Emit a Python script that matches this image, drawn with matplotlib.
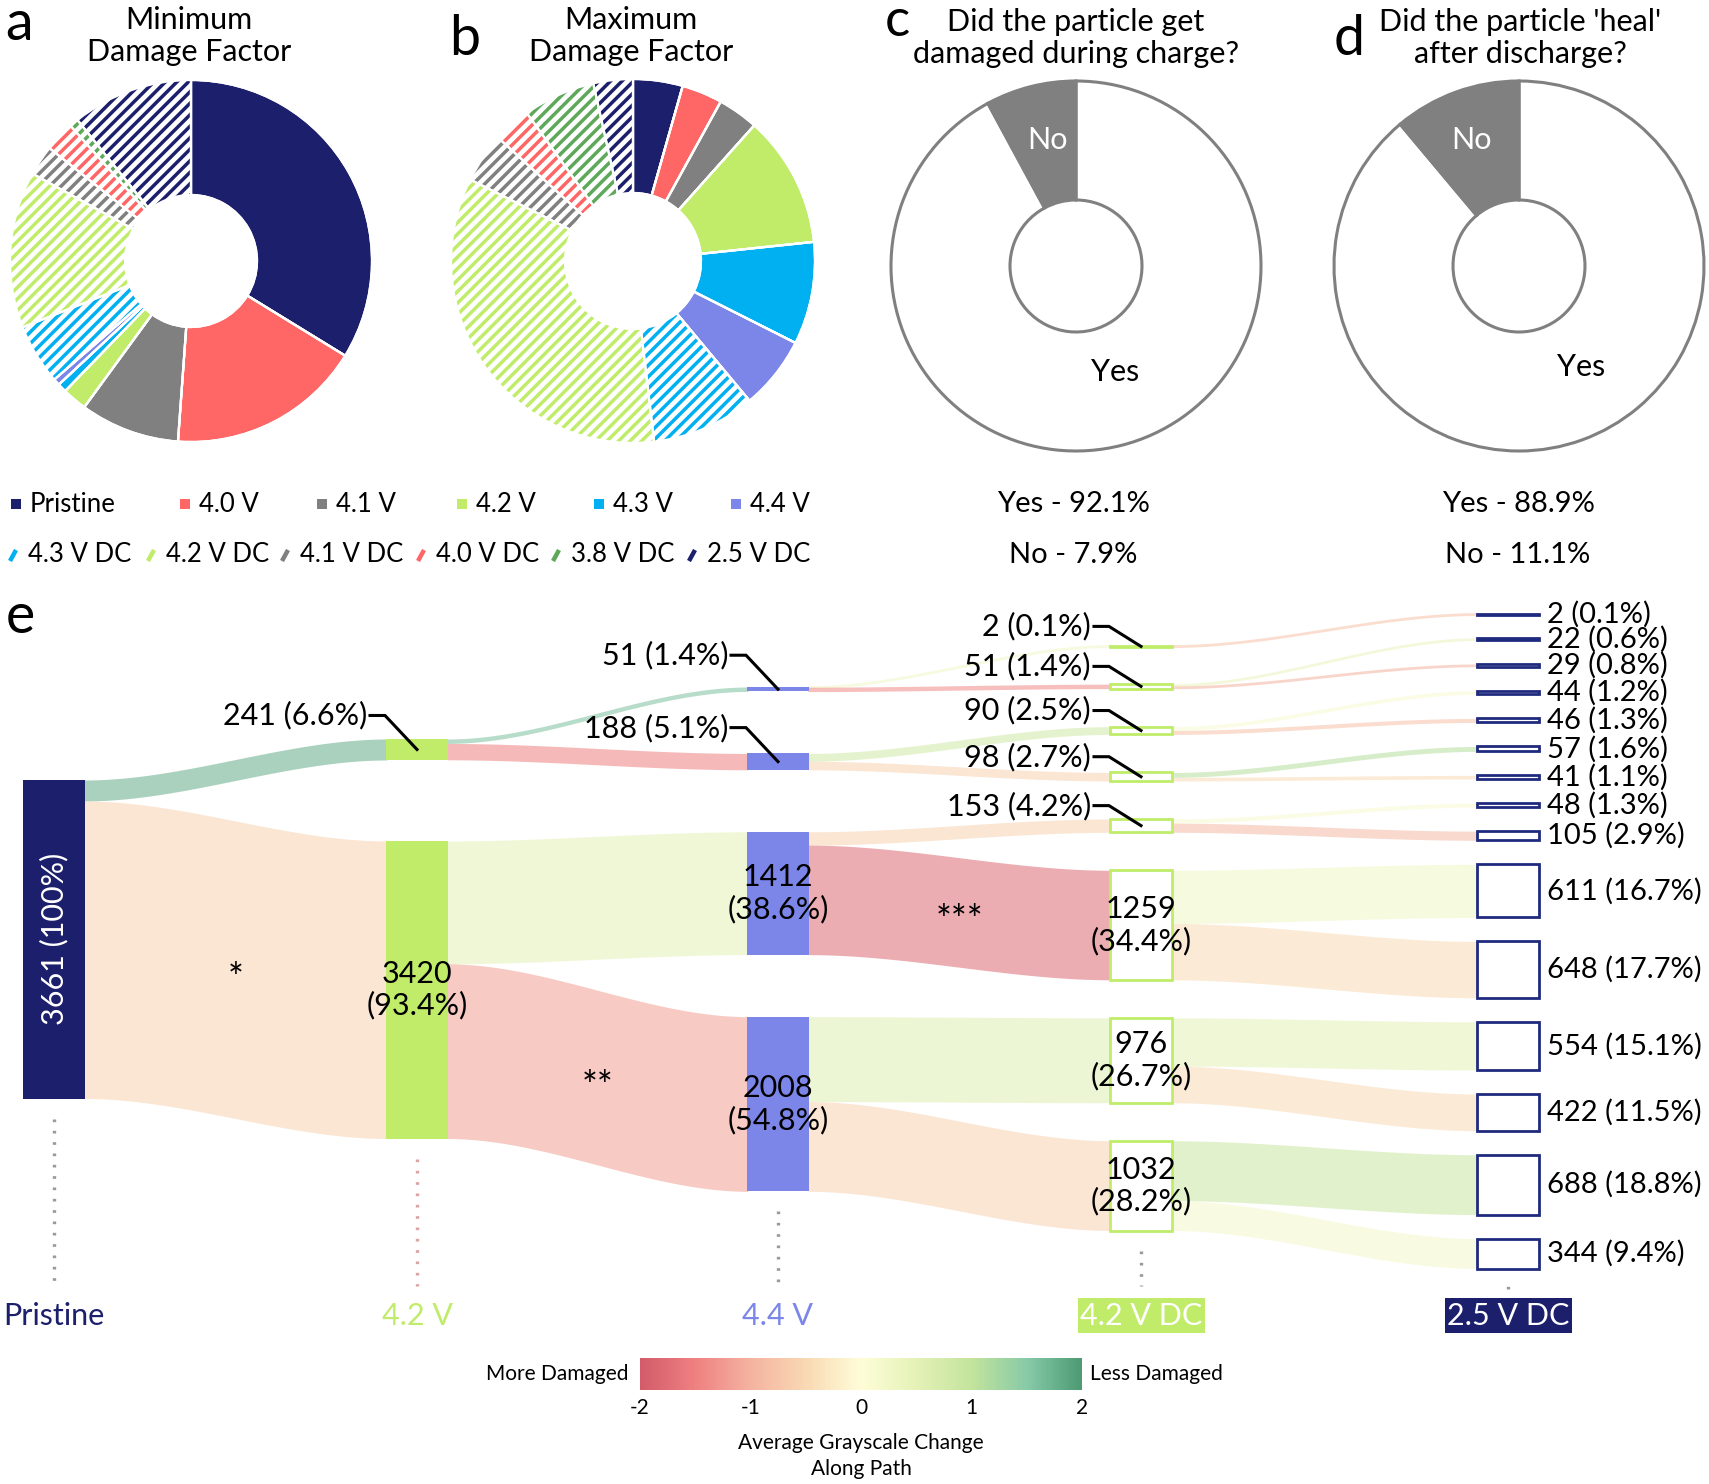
import numpy as np
import matplotlib
matplotlib.use('Agg')
import matplotlib.pyplot as plt
from matplotlib.patches import Rectangle, Wedge
from matplotlib.colors import LinearSegmentedColormap, Normalize
from matplotlib.cm import ScalarMappable

plt.rcParams['font.family'] = ['Lato', 'DejaVu Sans']
plt.rcParams['axes.unicode_minus'] = False

# ---------------- data ----------------
categories = ['Pristine', '4.0 V', '4.1 V', '4.2 V', '4.3 V', '4.4 V',
              '4.3 V DC', '4.2 V DC', '4.1 V DC', '4.0 V DC', '3.8 V DC', '2.5 V DC']
min_damage_pct = [33.8, 17.4, 8.9, 2.2, 0.8, 0.6, 5.4, 14.0, 2.7, 2.7, 0.8, 10.8]
max_damage_pct = [4.4, 3.6, 3.6, 11.7, 9.1, 6.5, 9.2, 34.2, 4.4, 3.3, 6.4, 3.5]

answer_labels = ['Yes', 'No']
damaged_during_charge_pct = [92.1, 7.9]
healed_after_discharge_pct = [88.9, 11.1]

stage_labels = ['Pristine', '4.2 V', '4.4 V', '4.2 V DC', '2.5 V DC']
stage_counts = [
    [3661],
    [241, 3420],
    [51, 188, 1412, 2008],
    [2, 51, 90, 98, 153, 1259, 976, 1032],
    [2, 22, 29, 44, 46, 57, 41, 48, 105, 611, 648, 554, 422, 688, 344],
]
link_stage = [0, 0, 1, 1, 1, 1, 2, 2, 2, 2, 2, 2, 2, 2,
              3, 3, 3, 3, 3, 3, 3, 3, 3, 3, 3, 3, 3, 3, 3]
link_src = [0, 0, 0, 0, 1, 1, 0, 0, 1, 1, 2, 2, 3, 3,
            0, 1, 1, 2, 2, 3, 3, 4, 4, 5, 5, 6, 6, 7, 7]
link_tgt = [0, 1, 0, 1, 2, 3, 0, 1, 2, 3, 4, 5, 6, 7,
            0, 1, 2, 3, 4, 5, 6, 7, 8, 9, 10, 11, 12, 13, 14]
link_count = [241, 3420, 51, 188, 1412, 2008, 2, 51, 90, 98, 153, 1259, 976, 1032,
              2, 22, 29, 44, 46, 57, 41, 48, 105, 611, 648, 554, 422, 688, 344]
link_change = [1.8, -0.6, 1.6, -1.5, 0.5, -1.2, 0.3, -1.4, 0.8, -0.6, -0.6, -1.8, 0.6, -0.6,
               -0.8, 0.4, -1.0, 0.1, -0.8, 1.1, -0.5, 0.1, -0.9, 0.3, -0.5, 0.5, -0.5, 0.9, 0.2]
link_marks = {1: '*', 5: '**', 11: '***'}

cbar_ticks = [-2, -1, 0, 1, 2]

# ---------------- styles ----------------
NAVY = '#1c1f6b'
RED = '#ff6666'
GRAY = '#808080'
GREEN = '#c0ec6a'
CYAN = '#00b0f0'
PERI = '#7b86e8'
DKGREEN = '#5ea85a'
cat_colors = [NAVY, RED, GRAY, GREEN, CYAN, PERI, CYAN, GREEN, GRAY, RED, DKGREEN, NAVY]
cat_hatched = [False] * 6 + [True] * 6

cmap = LinearSegmentedColormap.from_list('dmg', [
    (0.0, '#d25c6a'), (0.12, '#ee7f80'), (0.25, '#f4b3a0'), (0.38, '#f9dab4'),
    (0.5, '#fefdd8'), (0.62, '#e6f2b8'), (0.75, '#c3e49c'), (0.88, '#86c9a8'),
    (1.0, '#4d9a74')])
norm = Normalize(-2, 2)

W, H = 1709, 1484
fig = plt.figure(figsize=(W / 100, H / 100), dpi=100)
base = fig.add_axes([0, 0, 1, 1])
base.set_xlim(0, W)
base.set_ylim(H, 0)
base.axis('off')
base.set_zorder(5)


def px_axes(x, y, w, h):
    return fig.add_axes([x / W, 1 - (y + h) / H, w / W, h / H])


def donut(cx, cy, R, r, vals, colors, hatched, edge, lw):
    pad = 6
    ax = px_axes(cx - R - pad, cy - R - pad, 2 * (R + pad), 2 * (R + pad))
    wedges, _ = ax.pie(vals, colors=colors, startangle=90, counterclock=False, radius=1,
                       wedgeprops=dict(width=1 - r / R, edgecolor=edge, linewidth=lw))
    lim = (R + pad) / R
    ax.set_xlim(-lim, lim)
    ax.set_ylim(-lim, lim)
    ax.set_aspect('equal')
    ax.axis('off')
    if hatched is not None:
        step = 11.5 / R
        for w, col, h in zip(wedges, colors, hatched):
            if h:
                w.set_facecolor('white')
                for c in np.arange(-2.3, 2.3, step):
                    ln, = ax.plot([-1.2, 1.2], [-1.2 + c, 1.2 + c], color=col, lw=2.5,
                                  solid_capstyle='butt', zorder=3)
                    ln.set_clip_path(w)
        for w in wedges:
            ax.add_patch(Wedge(w.center, w.r, w.theta1, w.theta2, width=w.width,
                               fc='none', ec='white', lw=lw, zorder=5))
    return ax


# ---------------- panels a, b ----------------
donut(191, 261, 181, 66, min_damage_pct, cat_colors, cat_hatched, 'white', 1.6)
donut(633, 261, 182, 68, max_damage_pct, cat_colors, cat_hatched, 'white', 1.6)

base.text(19, 40, 'a', fontsize=40, ha='center', va='baseline')
base.text(465, 55, 'b', fontsize=40, ha='center', va='baseline')
base.text(189, 36, 'Minimum\nDamage Factor', fontsize=22, ha='center', va='center', linespacing=1.2)
base.text(631, 36, 'Maximum\nDamage Factor', fontsize=22, ha='center', va='center', linespacing=1.2)

# legend
row1_x = [16, 185, 322, 462, 599, 736]
row2_x = [13, 151, 285, 421, 556, 692]
for i in range(6):
    mx = row1_x[i]
    base.add_patch(Rectangle((mx - 5, 499), 10, 10, fc=cat_colors[i], ec='none'))
    base.text(mx + 14, 504, categories[i], fontsize=18.5, ha='left', va='center')
for i in range(6):
    mx = row2_x[i]
    base.plot([mx - 3, mx + 3], [561, 550], color=cat_colors[6 + i], lw=3.2, solid_capstyle='butt')
    base.text(mx + 15, 555, categories[6 + i], fontsize=18.5, ha='left', va='center')

# ---------------- panels c, d ----------------
donut(1076, 266, 185, 66, damaged_during_charge_pct, ['white', GRAY], None, GRAY, 2.2)
donut(1519, 266, 185, 66, healed_after_discharge_pct, ['white', GRAY], None, GRAY, 2.2)
base.text(897, 36, 'c', fontsize=38, ha='center', va='baseline')
base.text(1349, 55, 'd', fontsize=40, ha='center', va='baseline')
base.text(1076, 38, 'Did the particle get\ndamaged during charge?', fontsize=22,
          ha='center', va='center', linespacing=1.2)
base.text(1520, 38, "Did the particle 'heal'\nafter discharge?", fontsize=22,
          ha='center', va='center', linespacing=1.2)
base.text(1047, 140, answer_labels[1], fontsize=22, color='white', ha='center', va='center')
base.text(1115, 372, answer_labels[0], fontsize=22, ha='center', va='center')
base.text(1472, 140, answer_labels[1], fontsize=22, color='white', ha='center', va='center')
base.text(1581, 367, answer_labels[0], fontsize=22, ha='center', va='center')
for cx, vals in [(1073, damaged_during_charge_pct), (1518, healed_after_discharge_pct)]:
    for j, (lab, v) in enumerate(zip(answer_labels, vals)):
        base.text(cx, 504 + 51 * j, f'{lab} - {v}%', fontsize=21, ha='center', va='center')

# ---------------- panel e : sankey ----------------
base.text(20, 633, 'e', fontsize=40, ha='center', va='baseline')

col_cx = [54, 417, 778, 1141, 1508]
col_top = [780, 739, 687, 646, 614]
col_gap = [0, 81, 62, 38, 24]
node_w = 62
k = 0.087  # pixels per particle
total = stage_counts[0][0]

node_top = []
for s, counts in enumerate(stage_counts):
    y = col_top[s]
    tops = []
    for v in counts:
        tops.append(y)
        y += v * k + col_gap[s]
    node_top.append(tops)

out_off = [[0.0] * len(c) for c in stage_counts]
in_off = [[0.0] * len(c) for c in stage_counts]
t = np.linspace(0, 1, 100)
sm = t * t * (3 - 2 * t)
for i in range(len(link_count)):
    s, a, b, v = link_stage[i], link_src[i], link_tgt[i], link_count[i]
    th = v * k
    y0 = node_top[s][a] + out_off[s][a]
    y1 = node_top[s + 1][b] + in_off[s + 1][b]
    out_off[s][a] += th
    in_off[s + 1][b] += th
    wd = max(th, 2.8)
    c0, c1 = y0 + th / 2, y1 + th / 2
    x0 = col_cx[s] + node_w / 2 - 1
    x1 = col_cx[s + 1] - node_w / 2 + 1
    xs = x0 + (x1 - x0) * t
    yc = c0 + (c1 - c0) * sm
    base.fill_between(xs, yc - wd / 2, yc + wd / 2, color=cmap(norm(link_change[i])),
                      alpha=0.55, lw=0, zorder=1)
    if i in link_marks:
        base.text((x0 + x1) / 2, (c0 + c1) / 2 + 10, link_marks[i], fontsize=27,
                  ha='center', va='center', zorder=4)

stage_fill = [NAVY, GREEN, PERI, 'white', 'white']
stage_edge = ['none', 'none', 'none', GREEN, '#1f2a7e']
leader_off = [0, 34, 34, 20, 0]


def pct_str(v):
    p = 100 * v / total
    return '100' if round(p, 1) == 100 else f'{p:.1f}'


for s, counts in enumerate(stage_counts):
    cx = col_cx[s]
    for j, v in enumerate(counts):
        top = node_top[s][j]
        h = max(v * k, 0.8)
        lw = 2.0 if stage_edge[s] != 'none' else 0
        base.add_patch(Rectangle((cx - node_w / 2, top), node_w, h, fc=stage_fill[s],
                                 ec=stage_edge[s], lw=lw, zorder=3))
        cy = top + h / 2
        lab = f'{v} ({pct_str(v)}%)'
        if s == 0:
            base.text(cx, cy, lab, rotation=90, color='white', fontsize=22,
                      ha='center', va='center', zorder=5)
        elif s == 4:
            base.text(cx + node_w / 2 + 8, cy, lab, fontsize=21, ha='left', va='center', zorder=5)
        elif v * k > 60:
            base.text(cx, cy, f'{v}\n({pct_str(v)}%)', fontsize=22, ha='center', va='center',
                      linespacing=1.15, zorder=5)
        else:
            ty = cy - leader_off[s]
            base.text(cx - 50, ty, lab, fontsize=22, ha='right', va='center', zorder=5)
            base.plot([cx - 47, cx - 32, cx], [ty, ty, cy], color='black', lw=2.2,
                      solid_joinstyle='miter', zorder=5)
    bottom = node_top[s][-1] + counts[-1] * k
    dot_col = '#d8a4a4' if s == 1 else '#9a9a9a'
    base.plot([cx, cx], [bottom + 20, 1286], color=dot_col, lw=2.4, ls=(0, (0.8, 2.6)), zorder=2)

label_colors = [NAVY, GREEN, PERI, 'white', 'white']
label_boxes = [None, None, None, GREEN, NAVY]
for s, lab in enumerate(stage_labels):
    cx = col_cx[s]
    if label_boxes[s] is not None:
        base.add_patch(Rectangle((cx - 63, 1298), 127, 35, fc=label_boxes[s], ec='none', zorder=3))
    base.text(cx, 1316, lab, fontsize=22, color=label_colors[s], ha='center', va='center', zorder=4)

# colorbar
cax = px_axes(640, 1358, 442, 32)
cb = fig.colorbar(ScalarMappable(norm=norm, cmap=cmap), cax=cax, orientation='horizontal',
                  ticks=cbar_ticks)
cb.outline.set_visible(False)
cax.tick_params(length=0, labelsize=15, pad=6)
cax.set_xticklabels([str(v) for v in cbar_ticks])
base.text(629, 1374, 'More Damaged', fontsize=15, ha='right', va='center')
base.text(1090, 1374, 'Less Damaged', fontsize=15, ha='left', va='center')
base.text(861, 1456, 'Average Grayscale Change\nAlong Path', fontsize=15, ha='center',
          va='center', linespacing=1.35)

fig.savefig('out.png', dpi=100)
